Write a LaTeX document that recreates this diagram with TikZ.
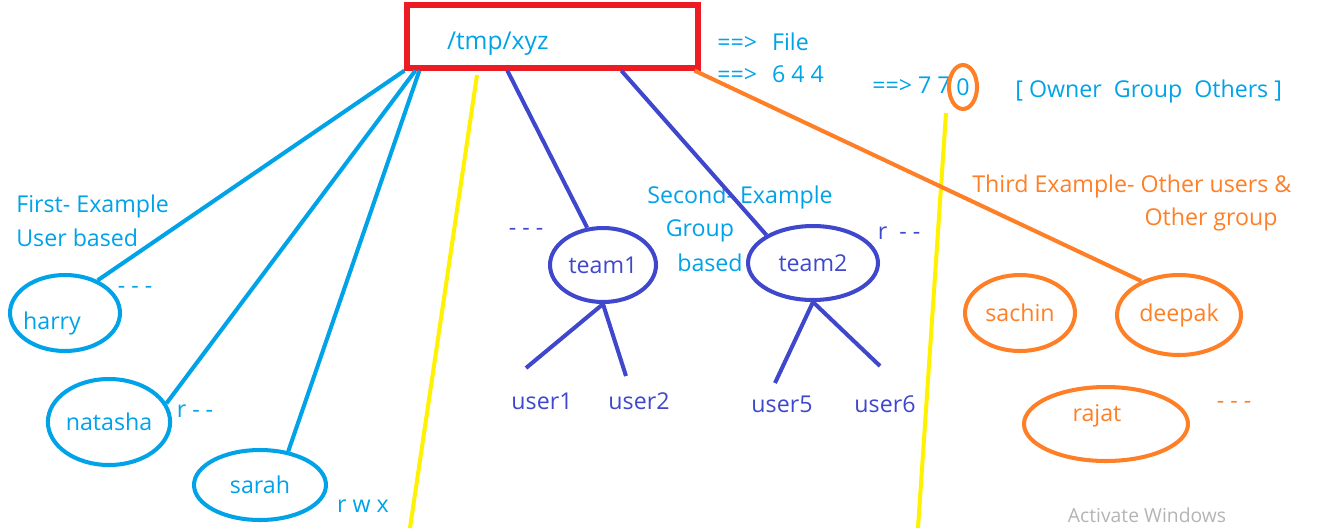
\documentclass[tikz,border=0pt]{standalone}
\usepackage{fontspec}
\setmainfont{Open Sans}
\usepackage{tikz}
\usetikzlibrary{shapes.geometric}
\definecolor{PaintRed}{HTML}{ED1C24}
\definecolor{PaintBlue}{HTML}{00A2E8}
\definecolor{PaintIndigo}{HTML}{3F48CC}
\definecolor{PaintOrange}{HTML}{FF7F27}
\definecolor{PaintYellow}{HTML}{FFF200}
\definecolor{WinGray}{HTML}{B4B4B4}

\begin{document}
\begin{tikzpicture}[x=0.02cm, y=-0.02cm, every node/.style={inner sep=0pt, font=\fontsize{13.2}{15}\selectfont},
		conn/.style={line width=2.3pt},
		usr/.style={ellipse, draw, line width=2.3pt}]
		\useasboundingbox (0,0) rectangle (1325,528);
		% file box
		\node[draw=PaintRed, line width=3pt, minimum width=5.82cm, minimum height=1.26cm,
			inner xsep=0.8cm, text width=4.22cm, align=left, text=PaintBlue,
			font=\fontsize{14}{16}\selectfont] (file) at (552.5,36.5) {\raisebox{-0.14cm}[\height][\depth]{/tmp/xyz}};
		\node[PaintBlue, anchor=west] at (717,42) {==>\hspace{0.3cm}File};
		\node[PaintBlue, anchor=west] at (717,74) {==>\hspace{0.3cm}6 4 4};
		\node[PaintBlue, anchor=west] at (872,85) {==> 7 7};
		\node[usr, draw=PaintOrange, text=PaintBlue, minimum width=0.56cm, minimum height=0.88cm] (zero) at (963,87) {0};
		\node[PaintBlue, anchor=west] at (1015,91) {[ Owner\ \ Group\ \ Others ]};
		% separators
		\draw[PaintYellow, line width=2.3pt] (477,75) -- (410,528);
		\draw[PaintYellow, line width=2.3pt] (946,113) -- (918,528);
		% first example: users
		\node[PaintBlue, anchor=west] at (16,206) {First- Example};
		\node[PaintBlue, anchor=west] at (16,238) {User based};
		\node[usr, draw=PaintBlue, text=PaintBlue, minimum width=2.2cm, minimum height=1.52cm] (harry) at (65,313) {\raisebox{-0.2cm}[\height][\depth]{\makebox[0pt]{\hspace*{-0.52cm}harry}}};
		\node[usr, draw=PaintBlue, text=PaintBlue, minimum width=2.24cm, minimum height=1.72cm] (natasha) at (109,422) {natasha};
		\node[usr, draw=PaintBlue, text=PaintBlue, minimum width=2.64cm, minimum height=1.4cm] (sarah) at (260,485) {sarah};
		\node[PaintBlue] at (135,290) {- - -};
		\node[PaintBlue] at (195,411) {r - -};
		\node[PaintBlue] at (363,506) {r w x};
		\draw[conn, PaintBlue] (file.south west) -- (harry.45);
		\draw[conn, PaintBlue] ([xshift=0.22cm]file.south west) -- (natasha.18);
		\draw[conn, PaintBlue] ([xshift=0.3cm]file.south west) -- (sarah.50);
		% second example: groups
		\node[PaintBlue] at (740,197) {Second- Example};
		\node[PaintBlue] at (700,231) {Group};
		\node[PaintBlue] at (710,263) {based};
		\node[usr, draw=PaintIndigo, text=PaintIndigo, minimum width=2.12cm, minimum height=1.48cm] (team1) at (603,265) {team1};
		\node[usr, draw=PaintIndigo, text=PaintIndigo, minimum width=2.6cm, minimum height=1.48cm] (team2) at (813,263) {team2};
		\node[PaintIndigo] at (526,232) {- - -};
		\node[PaintIndigo] at (899,233) {r\ \ - -};
		\draw[conn, PaintIndigo] ([xshift=2.06cm]file.south west) -- (team1.113);
		\draw[conn, PaintIndigo] ([xshift=4.34cm]file.south west) -- (team2.149);
		\coordinate (u1) at (526,368);
		\coordinate (u2) at (626,376);
		\coordinate (u5) at (775,383);
		\coordinate (u6) at (880,366);
		\draw[conn, PaintIndigo] (team1.south) -- (u1);
		\draw[conn, PaintIndigo] (team1.south) -- (u2);
		\draw[conn, PaintIndigo] (team2.south) -- (u5);
		\draw[conn, PaintIndigo] (team2.south) -- (u6);
		\node[PaintIndigo] at (542,401) {user1};
		\node[PaintIndigo] at (639,401) {user2};
		\node[PaintIndigo] at (782,404) {user5};
		\node[PaintIndigo] at (885,404) {user6};
		% third example: others
		\node[PaintOrange, anchor=west] at (972,186) {Third Example- Other users \&};
		\node[PaintOrange, anchor=east] at (1278,219) {Other group};
		\node[usr, draw=PaintOrange, text=PaintOrange, minimum width=2.2cm, minimum height=1.52cm] (sachin) at (1020,313) {sachin};
		\node[usr, draw=PaintOrange, text=PaintOrange, minimum width=2.48cm, minimum height=1.6cm] (deepak) at (1179,315) {deepak};
		\node[usr, draw=PaintOrange, text=PaintOrange, minimum width=3.28cm, minimum height=1.48cm] (rajat) at (1106,424) {\raisebox{0.16cm}[\height][\depth]{\makebox[0pt]{\hspace*{-0.36cm}rajat}}};
		\node[PaintOrange] at (1234,405) {- - -};
		\draw[conn, PaintOrange] ([xshift=-0.12cm]file.south east) -- (deepak.138);
		% watermark
		\node[WinGray, font=\fontsize{11}{13}\selectfont] at (1147,515) {Activate Windows};
	\end{tikzpicture}
\end{document}
